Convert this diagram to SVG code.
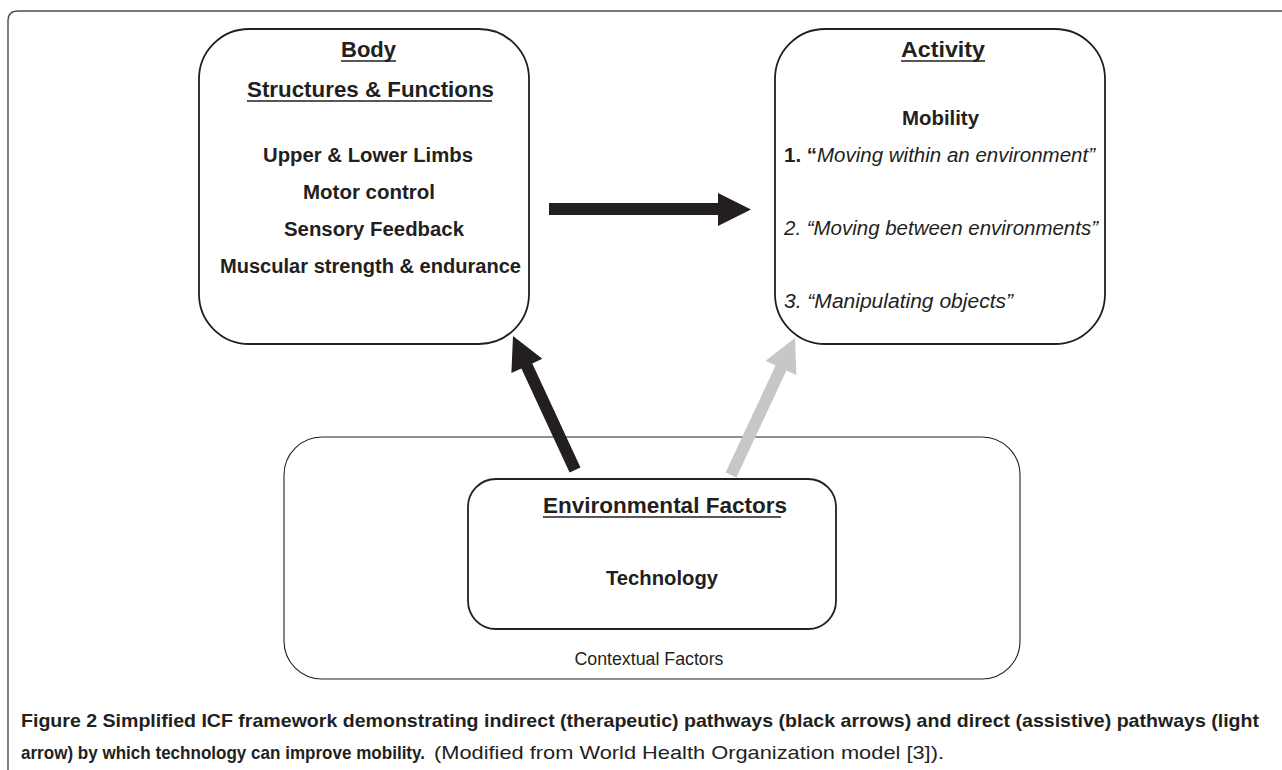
<svg xmlns="http://www.w3.org/2000/svg" width="1282" height="770" viewBox="0 0 1282 770">
<style>
.box{fill:none;stroke:#231f20;stroke-width:1.8}
.thin{fill:none;stroke:#231f20;stroke-width:1.1}
.t{font-family:"Liberation Sans",Arial,sans-serif;fill:#231f20}
.b{font-weight:bold;font-size:20px}
.h{font-weight:bold;font-size:22px}
.i{font-style:italic;font-size:20px}
.ul{stroke:#231f20;stroke-width:1.6}
.cap{font-family:"Liberation Sans",Arial,sans-serif;font-size:19px;fill:#231f20}
</style>
<rect width="1282" height="770" fill="#ffffff"/>
<path d="M8 770 V21 Q8 11 18 11 H1282" fill="none" stroke="#4d4d4d" stroke-width="1.4"/>

<g id="context">
<rect class="thin" x="284" y="437" width="736" height="242" rx="38"/>
<text class="t" x="649" y="665" font-size="18" text-anchor="middle" textLength="149" lengthAdjust="spacingAndGlyphs">Contextual Factors</text>
</g>

<g id="env">
<rect class="box" x="468" y="479" width="368" height="150" rx="28"/>
<text class="t h" x="543" y="513" textLength="244" lengthAdjust="spacingAndGlyphs">Environmental Factors</text>
<line class="ul" x1="543" y1="517" x2="781" y2="517"/>
<text class="t b" x="606" y="585" textLength="112" lengthAdjust="spacingAndGlyphs">Technology</text>
</g>

<g id="body">
<rect class="box" x="199" y="29" width="330" height="315" rx="50"/>
<text class="t h" x="341" y="57" textLength="55" lengthAdjust="spacingAndGlyphs">Body</text>
<line class="ul" x1="341" y1="61" x2="396" y2="61"/>
<text class="t h" x="247" y="97" textLength="247" lengthAdjust="spacingAndGlyphs">Structures &amp; Functions</text>
<line class="ul" x1="247" y1="101" x2="492" y2="101"/>
<text class="t b" x="263" y="162" textLength="210" lengthAdjust="spacingAndGlyphs">Upper &amp;  Lower Limbs</text>
<text class="t b" x="303" y="199" textLength="132" lengthAdjust="spacingAndGlyphs">Motor control</text>
<text class="t b" x="284" y="236" textLength="180" lengthAdjust="spacingAndGlyphs">Sensory Feedback</text>
<text class="t b" x="220" y="273" textLength="301" lengthAdjust="spacingAndGlyphs">Muscular strength &amp; endurance</text>
</g>

<g id="activity">
<rect class="box" x="775" y="29" width="330" height="315" rx="50"/>
<text class="t h" x="901" y="57" textLength="84" lengthAdjust="spacingAndGlyphs">Activity</text>
<line class="ul" x1="901" y1="61" x2="985" y2="61"/>
<text class="t b" x="902" y="125" textLength="77" lengthAdjust="spacingAndGlyphs">Mobility</text>
<text class="t i" x="784" y="162" textLength="311" lengthAdjust="spacingAndGlyphs"><tspan font-weight="bold" font-style="normal">1. “</tspan>Moving within an environment”</text>
<text class="t i" x="784" y="235" textLength="314" lengthAdjust="spacingAndGlyphs">2. “Moving between environments”</text>
<text class="t i" x="784" y="308" textLength="229" lengthAdjust="spacingAndGlyphs">3. “Manipulating objects”</text>
</g>

<g id="connectors">
<polygon fill="#231f20" points="549,203 718,203 718,193 751,209.5 718,226 718,215 549,215"/>
<polygon fill="#231f20" points="513,336 542.3,358.8 532.3,363.4 580.5,467.5 569.6,472.5 521.4,368.5 511.4,373.1"/>
<polygon fill="#c6c7c9" points="795,338 796.4,375.1 786.5,370.4 736.4,477.5 725.6,472.5 775.6,365.4 765.6,360.7"/>
</g>

<g id="caption">
<text class="cap" x="21" y="727" font-weight="bold" textLength="1238" lengthAdjust="spacingAndGlyphs">Figure 2 Simplified ICF framework demonstrating indirect (therapeutic) pathways (black arrows) and direct (assistive) pathways (light</text>
<text class="cap" x="21" y="759" font-weight="bold" textLength="404" lengthAdjust="spacingAndGlyphs">arrow) by which technology can improve mobility.</text>
<text class="cap" x="434" y="759" fill="#444444" font-size="18" textLength="510" lengthAdjust="spacingAndGlyphs">(Modified from World Health Organization model [3]).</text>
</g>
</svg>
